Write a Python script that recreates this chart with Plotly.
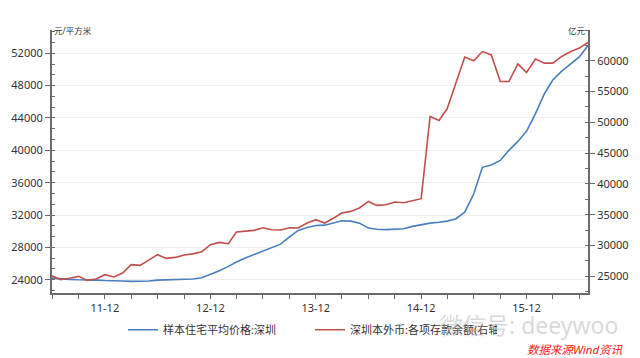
import plotly.graph_objects as go
import pandas as pd

months = pd.date_range("2011-06-01", "2016-07-01", freq="MS").strftime("%Y-%m-%d").tolist()

# 样本住宅平均价格:深圳 (元/平方米, left axis)
price_sz = [24200, 24100, 24050, 24000, 24000, 23950, 23900, 23900, 23850, 23800,
            23800, 23850, 23950, 24000, 24000, 24050, 24100, 24250, 24650, 25100,
            25650, 26200, 26700, 27100, 27600, 28000, 28400, 29300, 30100, 30450,
            30700, 30750, 31050, 31300, 31250, 31000, 30400, 30250, 30200, 30250,
            30300, 30600, 30800, 31000, 31100, 31250, 31550, 32350, 34600, 37900,
            38200, 38750, 40000, 41100, 42350, 44550, 47000, 48700, 49800, 50700,
            51550, 52950]

# 深圳本外币:各项存款余额 (亿元, right axis)
deposits_sz = [25100, 24460, 24700, 25000, 24350, 24580, 25270, 24900, 25550, 26900,
               26790, 27700, 28520, 27920, 28080, 28470, 28650, 29000, 30140, 30520,
               30300, 32200, 32300, 32460, 32900, 32580, 32530, 32900, 32850, 33660,
               34200, 33660, 34470, 35290, 35550, 36100, 37170, 36520, 36630, 37070,
               36960, 37280, 37610, 50960, 50310, 52210, 56400, 60600, 60000, 61500,
               60960, 56640, 56640, 59500, 58100, 60270, 59620, 59620, 60700, 61460,
               62060, 62970]

x_tick_vals = ["2011-12-01", "2012-12-01", "2013-12-01", "2014-12-01", "2015-12-01"]
x_tick_text = ["11-12", "12-12", "13-12", "14-12", "15-12"]
left_ticks = [24000, 28000, 32000, 36000, 40000, 44000, 48000, 52000]
right_ticks = [25000, 30000, 35000, 40000, 45000, 50000, 55000, 60000]

FONT = "Segoe UI, Noto Sans, Noto Sans CJK SC, sans-serif"
AX = "#6b6b6b"

fig = go.Figure()
fig.add_trace(go.Scatter(x=months, y=price_sz, mode="lines", name="样本住宅平均价格:深圳",
                         line=dict(color="#4A7EBF", width=1.6), yaxis="y"))
fig.add_trace(go.Scatter(x=months, y=deposits_sz, mode="lines", name="深圳本外币:各项存款余额(右轴)",
                         line=dict(color="#C0504D", width=1.6), yaxis="y2"))

fig.update_layout(
    width=640, height=358,
    margin=dict(l=52, r=52, t=30, b=65, autoexpand=False),
    paper_bgcolor="white", plot_bgcolor="white",
    font=dict(family=FONT, size=11, color="#333333"),
    showlegend=True,
    legend=dict(orientation="h", x=0.1325, y=-0.14, xanchor="left", yanchor="middle",
                font=dict(size=11, color="#333333"), entrywidth=142, entrywidthmode="pixels",
                bgcolor="rgba(0,0,0,0)", itemwidth=30),
    xaxis=dict(type="date", range=["2011-06-01", "2016-07-01"],
               tickvals=x_tick_vals, ticktext=x_tick_text,
               ticks="outside", ticklen=4, tickcolor=AX, tickwidth=1,
               showline=True, linecolor=AX, linewidth=2, showgrid=False, zeroline=False,
               tickfont=dict(size=11, color="#333333"), automargin=False,
               minor=dict(dtick="M3", tick0="2011-06-01", ticks="outside", ticklen=4,
                          tickcolor=AX, showgrid=False)),
    yaxis=dict(range=[22360, 54880], tickvals=left_ticks, tickformat="d",
               ticks="outside", ticklen=5, tickcolor=AX,
               showline=True, linecolor=AX, linewidth=2, automargin=False,
               showgrid=True, gridcolor="#efefef", gridwidth=1, zeroline=False,
               tickfont=dict(size=11, color="#333333"),
               minor=dict(dtick=4000 / 3, tick0=0, ticks="inside", ticklen=3,
                          tickcolor=AX, showgrid=False)),
    yaxis2=dict(range=[22300, 65000], tickvals=right_ticks, tickformat="d",
                overlaying="y", side="right",
                ticks="outside", ticklen=5, tickcolor=AX, automargin=False,
                showline=True, linecolor=AX, linewidth=2,
                showgrid=False, zeroline=False,
                tickfont=dict(size=11, color="#333333"),
                minor=dict(dtick=2500, tick0=0, ticks="inside", ticklen=3,
                           tickcolor=AX, showgrid=False)),
    annotations=[
        dict(text="元/平方米", xref="paper", yref="paper", x=0.0, y=1.0,
             xanchor="left", yanchor="middle", showarrow=False,
             font=dict(size=8.5, color="#333333")),
        dict(text="亿元", xref="paper", yref="paper", x=1.0, y=1.0,
             xanchor="right", yanchor="middle", showarrow=False,
             font=dict(size=8.5, color="#333333")),
        dict(text="微信号: deeywoo", xref="paper", yref="paper", x=1.06, y=-0.12,
             xanchor="right", yanchor="middle", showarrow=False,
             font=dict(size=23, color="rgba(170,170,170,0.45)")),
        dict(text="<i>数据来源Wind资讯</i>", xref="paper", yref="paper", x=1.069, y=-0.215,
             xanchor="right", yanchor="middle", showarrow=False,
             font=dict(size=11.5, color="#ff2020")),
    ],
)

fig.write_html("out.html", config={"displayModeBar": False},
               post_script="document.body.style.margin='0';")
